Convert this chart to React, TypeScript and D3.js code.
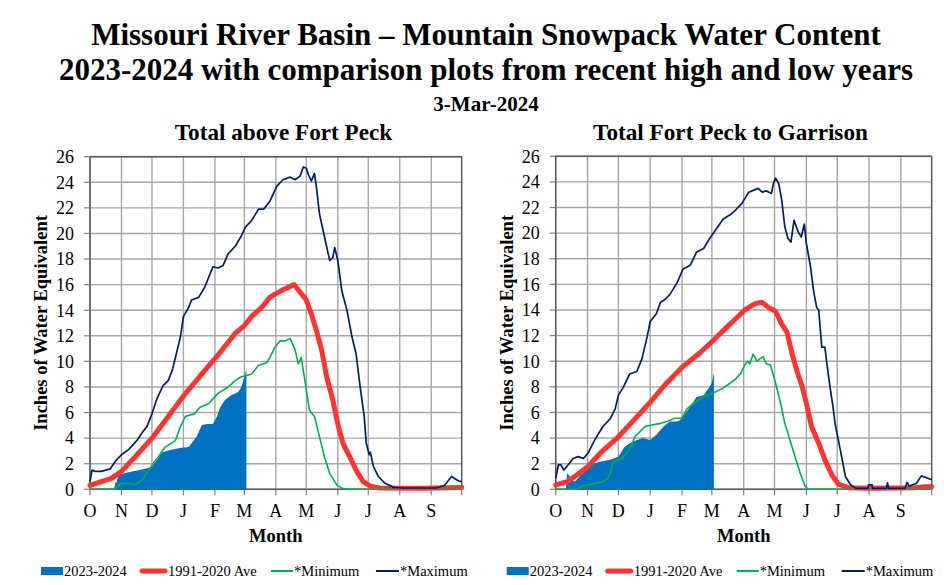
import React from 'react';
import * as d3 from 'd3';

type Pt = [number, number];

const MONTH_LABELS = ['O', 'N', 'D', 'J', 'F', 'M', 'A', 'M', 'J', 'J', 'A', 'S'];
const MONTH_START_DAYS = [0, 31, 61, 92, 123, 152, 183, 213, 244, 274, 305, 336];
const YEAR_DAYS = 366;
const Y_TICKS = [0, 2, 4, 6, 8, 10, 12, 14, 16, 18, 20, 22, 24, 26];

const TITLE_1 = 'Missouri River Basin \u2013 Mountain Snowpack Water Content';
const TITLE_2 = '2023-2024 with comparison plots from recent high and low years';
const DATE_LABEL = '3-Mar-2024';
const PANEL_TITLES = ['Total above Fort Peck', 'Total Fort Peck to Garrison'];
const LEGEND_LABELS = ['2023-2024', '1991-2020 Ave', '*Minimum', '*Maximum'];

// ---- Total above Fort Peck ----
const FP_CURRENT: Pt[] = [[0, 0], [5, 0.05], [15, 0.05], [22, 0.05], [24, 0.1], [25, 0.6], [26, 0.5], [28, 1.1], [34, 1.25], [41, 1.4], [51, 1.55], [61, 1.75], [66, 2.3], [71, 2.9], [80, 3.1], [90, 3.25], [97, 3.3], [100, 3.6], [105, 4.1], [110, 5.0], [115, 5.1], [121, 5.1], [125, 5.7], [128, 6.4], [133, 7.0], [139, 7.35], [146, 7.6], [149, 8.0], [152, 8.8], [154, 9.4]];
const FP_AVG: Pt[] = [[0, 0.3], [11, 0.6], [21, 0.85], [31, 1.4], [44, 2.5], [61, 4.0], [77, 5.7], [94, 7.5], [110, 9.0], [126, 10.5], [143, 12.2], [152, 12.8], [159, 13.5], [170, 14.3], [177, 15.0], [183, 15.3], [190, 15.6], [198, 15.9], [201, 16.0], [204, 15.7], [209, 15.2], [213, 14.8], [218, 13.7], [223, 12.4], [228, 10.9], [233, 8.8], [239, 7.0], [244, 5.1], [249, 3.6], [256, 2.5], [262, 1.5], [269, 0.6], [276, 0.25], [285, 0.1], [325, 0.08], [366, 0.15]];
const FP_MIN: Pt[] = [[0, 0], [25, 0], [26, 0.2], [31, 0.45], [38, 0.45], [44, 0.35], [51, 0.7], [57, 1.4], [62, 2.0], [66, 2.4], [74, 3.3], [84, 3.8], [89, 4.9], [94, 5.7], [103, 5.9], [108, 6.4], [117, 6.7], [126, 7.5], [136, 8.0], [143, 8.5], [149, 8.8], [159, 9.0], [166, 9.7], [174, 9.9], [177, 10.3], [182, 11.1], [187, 11.6], [192, 11.6], [197, 11.8], [202, 10.9], [205, 9.8], [208, 10.3], [212, 8.3], [216, 6.2], [221, 5.7], [226, 4.1], [231, 2.5], [236, 1.25], [243, 0.35], [249, 0.05], [256, 0], [366, 0]];
const FP_MAX: Pt[] = [[0, 0.6], [2, 1.5], [5, 1.4], [11, 1.4], [20, 1.6], [25, 2.2], [31, 2.7], [38, 3.1], [46, 3.8], [52, 4.5], [56, 4.9], [61, 5.9], [66, 7.1], [72, 8.1], [77, 8.5], [81, 9.3], [85, 10.6], [89, 11.9], [92, 13.5], [97, 14.2], [100, 14.8], [107, 15.0], [113, 15.8], [121, 17.4], [126, 17.3], [131, 17.5], [136, 18.4], [143, 19.0], [149, 19.8], [153, 20.5], [159, 21.0], [166, 21.9], [171, 21.9], [177, 22.5], [184, 23.7], [190, 24.2], [197, 24.4], [202, 24.2], [207, 24.5], [210, 25.2], [213, 25.1], [215, 24.6], [218, 24.1], [221, 24.7], [223, 23.6], [226, 21.5], [231, 19.7], [236, 17.9], [239, 18.1], [241, 18.9], [244, 17.9], [248, 15.5], [253, 14.0], [258, 11.9], [262, 10.6], [266, 8.0], [270, 5.7], [272, 3.6], [275, 2.7], [276, 2.9], [279, 1.8], [284, 1.0], [290, 0.5], [299, 0.15], [309, 0.1], [325, 0.1], [341, 0.1], [349, 0.3], [356, 1.0], [359, 0.85], [363, 0.65], [366, 0.6]];

// ---- Total Fort Peck to Garrison ----
const GAR_CURRENT: Pt[] = [[0, 0], [10, 0], [11, 1.25], [13, 1.1], [15.6, 0.7], [19, 0.6], [24, 1.1], [30, 1.5], [37, 2.0], [43, 2.15], [53, 2.3], [61, 2.55], [67, 3.3], [72, 3.6], [79, 3.85], [85, 4.0], [92, 3.85], [98, 4.25], [105, 4.9], [111, 5.3], [118, 5.3], [121, 5.4], [126, 5.9], [131, 6.45], [137, 7.2], [144, 7.35], [149, 7.9], [152, 8.3], [154, 9.1]];
const GAR_AVG: Pt[] = [[0, 0.35], [11, 0.6], [20, 1.1], [31, 1.75], [43, 2.8], [61, 4.1], [76, 5.4], [92, 6.8], [108, 8.3], [124, 9.6], [141, 10.7], [153, 11.6], [167, 12.7], [175, 13.3], [184, 14.0], [194, 14.5], [201, 14.6], [207, 14.2], [214, 13.9], [220, 12.9], [225, 12.3], [230, 10.6], [235, 9.2], [240, 8.0], [244, 6.7], [249, 4.9], [256, 3.6], [262, 2.3], [269, 1.1], [275, 0.4], [285, 0.13], [304, 0.08], [350, 0.13], [359, 0.2], [366, 0.2]];
const GAR_MIN: Pt[] = [[0, 0], [17, 0], [22, 0.08], [27, 0.25], [37, 0.45], [46, 0.6], [51, 0.85], [54, 1.5], [56, 2.15], [64, 2.4], [69, 2.8], [74, 3.45], [77, 4.1], [82, 4.5], [87, 4.9], [92, 5.0], [102, 5.15], [108, 5.3], [116, 5.55], [123, 5.55], [128, 6.3], [134, 6.7], [141, 7.1], [147, 7.35], [153, 7.5], [163, 7.9], [170, 8.3], [175, 8.6], [180, 9.05], [184, 9.7], [187, 10.0], [189, 9.8], [192, 10.55], [196, 10.0], [199, 10.2], [202, 10.35], [205, 9.8], [209, 9.7], [214, 8.3], [219, 6.7], [223, 5.15], [228, 3.85], [233, 2.55], [238, 1.25], [243, 0.2], [246, 0], [366, 0]];
const GAR_MAX: Pt[] = [[0, 0.85], [2.6, 1.9], [5, 1.9], [8, 1.5], [12, 1.9], [17, 2.4], [22, 2.55], [27, 2.4], [32, 2.9], [37, 3.7], [42, 4.4], [46, 4.9], [53, 5.5], [58, 6.3], [61, 7.35], [66, 8.0], [72, 9.0], [79, 9.2], [84, 10.2], [89, 11.9], [92, 13.1], [98, 13.7], [102, 14.6], [106, 14.8], [111, 15.2], [118, 16.1], [124, 17.2], [131, 17.5], [137, 18.5], [144, 18.8], [150, 19.6], [157, 20.4], [163, 21.1], [171, 21.5], [175, 21.8], [181, 22.3], [188, 23.2], [194, 23.4], [197, 23.5], [201, 23.2], [205, 23.3], [210, 23.1], [212, 23.9], [214, 24.3], [217, 23.9], [220, 22.6], [223, 20.5], [226, 19.6], [229, 19.3], [232, 21.0], [236, 20.1], [239, 19.7], [242, 20.7], [244, 19.2], [248, 17.4], [251, 15.5], [254, 14.2], [256, 14.0], [259, 11.1], [262, 11.1], [264, 9.8], [267, 8.0], [270, 6.4], [272, 5.1], [277, 3.1], [282, 1.0], [287, 0.35], [292, 0.08], [304, 0.08], [304.5, 0.35], [308, 0.35], [308.5, 0.08], [322, 0.08], [323, 0.5], [324, 0.08], [340, 0.08], [342, 0.55], [344, 0.25], [351, 0.45], [356, 1.05], [361, 0.9], [366, 0.75]];

const COLORS = { current: '#0070C0', avg: '#FF3333', min: '#00B050', max: '#002060' };
const FONT = '"Liberation Serif", "Times New Roman", serif';

interface PanelProps {
  x0: number; x1: number; y0: number; y1: number;
  title: string; titleX: number;
  current: Pt[]; avg: Pt[]; min: Pt[]; max: Pt[];
}

function Panel({ x0, x1, y0, y1, title, titleX, current, avg, min, max }: PanelProps) {
  const x = d3.scaleLinear().domain([0, YEAR_DAYS]).range([x0, x1]);
  const y = d3.scaleLinear().domain([0, 26]).range([y1, y0]);
  const line = d3.line<Pt>().x(d => x(d[0])).y(d => y(d[1]));
  const area = d3.area<Pt>().x(d => x(d[0])).y0(y(0)).y1(d => y(d[1]));
  const cx = (x0 + x1) / 2;
  const lg = x0; // legend anchor
  const legendY = 571;
  return (
    <g>
      <text x={titleX} y={140} textAnchor="middle" fontFamily={FONT} fontWeight="bold" fontSize={23.2}>{title}</text>
      {/* grid */}
      {Y_TICKS.map(t => (
        <line key={'h' + t} x1={x0} x2={x1} y1={y(t)} y2={y(t)} stroke="#a6a6a6" strokeWidth={1.4} />
      ))}
      {MONTH_START_DAYS.map(m => (
        <line key={'v' + m} x1={x(m)} x2={x(m)} y1={y0} y2={y1} stroke="#a6a6a6" strokeWidth={1.4} />
      ))}
      {/* frame */}
      <rect x={x0} y={y0} width={x1 - x0} height={y1 - y0} fill="none" stroke="#595959" strokeWidth={1.5} />
      {/* ticks */}
      {Y_TICKS.map(t => (
        <g key={'yt' + t}>
          <line x1={x0 - 6} x2={x0} y1={y(t)} y2={y(t)} stroke="#7f7f7f" strokeWidth={1.2} />
          <text x={x0 - 16} y={y(t)} dy="0.35em" textAnchor="end" fontFamily={FONT} fontSize={18}>{t}</text>
        </g>
      ))}
      {MONTH_START_DAYS.map((m, i) => (
        <g key={'xt' + m}>
          <line x1={x(m)} x2={x(m)} y1={y1} y2={y1 + 6} stroke="#7f7f7f" strokeWidth={1.2} />
          <text x={x(m)} y={517} textAnchor="middle" fontFamily={FONT} fontSize={18}>{MONTH_LABELS[i]}</text>
        </g>
      ))}
      <line x1={x1} x2={x1} y1={y1} y2={y1 + 6} stroke="#7f7f7f" strokeWidth={1.2} />
      {/* series */}
      <path d={area(current) || ''} fill={COLORS.current} />
      <path d={line(avg) || ''} fill="none" stroke={COLORS.avg} strokeWidth={5} strokeLinejoin="round" strokeLinecap="round" />
      <path d={line(min) || ''} fill="none" stroke={COLORS.min} strokeWidth={1.6} strokeLinejoin="round" />
      <path d={line(max) || ''} fill="none" stroke={COLORS.max} strokeWidth={1.7} strokeLinejoin="round" />
      {/* axis titles */}
      <text transform={`translate(${x0 - 43},${(y0 + y1) / 2}) rotate(-90)`} textAnchor="middle" fontFamily={FONT} fontWeight="bold" fontSize={18.5}>Inches of Water Equivalent</text>
      <text x={cx} y={542} textAnchor="middle" fontFamily={FONT} fontWeight="bold" fontSize={18.5}>Month</text>
      {/* legend */}
      <rect x={lg - 49} y={legendY - 4} width={22} height={8} fill={COLORS.current} />
      <text x={lg - 26} y={legendY + 5} fontFamily={FONT} fontSize={14.5}>{LEGEND_LABELS[0]}</text>
      <line x1={lg + 52} x2={lg + 75} y1={legendY} y2={legendY} stroke={COLORS.avg} strokeWidth={5} strokeLinecap="round" />
      <text x={lg + 78} y={legendY + 5} fontFamily={FONT} fontSize={14.5}>{LEGEND_LABELS[1]}</text>
      <line x1={lg + 181} x2={lg + 203} y1={legendY} y2={legendY} stroke={COLORS.min} strokeWidth={2} />
      <text x={lg + 204} y={legendY + 5} fontFamily={FONT} fontSize={14.5}>{LEGEND_LABELS[2]}</text>
      <line x1={lg + 286} x2={lg + 309} y1={legendY} y2={legendY} stroke={COLORS.max} strokeWidth={2} />
      <text x={lg + 310} y={legendY + 5} fontFamily={FONT} fontSize={14.5}>{LEGEND_LABELS[3]}</text>
    </g>
  );
}

export default function App() {
  return (
    <svg width={944} height={585} viewBox="0 0 944 585" style={{ position: 'absolute', left: 0, top: 0, background: '#fff' }}>
      <rect x={0} y={0} width={944} height={585} fill="#fff" />
      <text x={486} y={45} textAnchor="middle" fontFamily={FONT} fontWeight="bold" fontSize={31}>{TITLE_1}</text>
      <text x={486} y={80} textAnchor="middle" fontFamily={FONT} fontWeight="bold" fontSize={31}>{TITLE_2}</text>
      <text x={486} y={111} textAnchor="middle" fontFamily={FONT} fontWeight="bold" fontSize={21}>{DATE_LABEL}</text>
      <Panel x0={90} x1={461.7} y0={156.7} y1={489.3} title={PANEL_TITLES[0]} titleX={283.5}
        current={FP_CURRENT} avg={FP_AVG} min={FP_MIN} max={FP_MAX} />
      <Panel x0={555.7} x1={931.7} y0={156.3} y1={489.3} title={PANEL_TITLES[1]} titleX={730.5}
        current={GAR_CURRENT} avg={GAR_AVG} min={GAR_MIN} max={GAR_MAX} />
    </svg>
  );
}
